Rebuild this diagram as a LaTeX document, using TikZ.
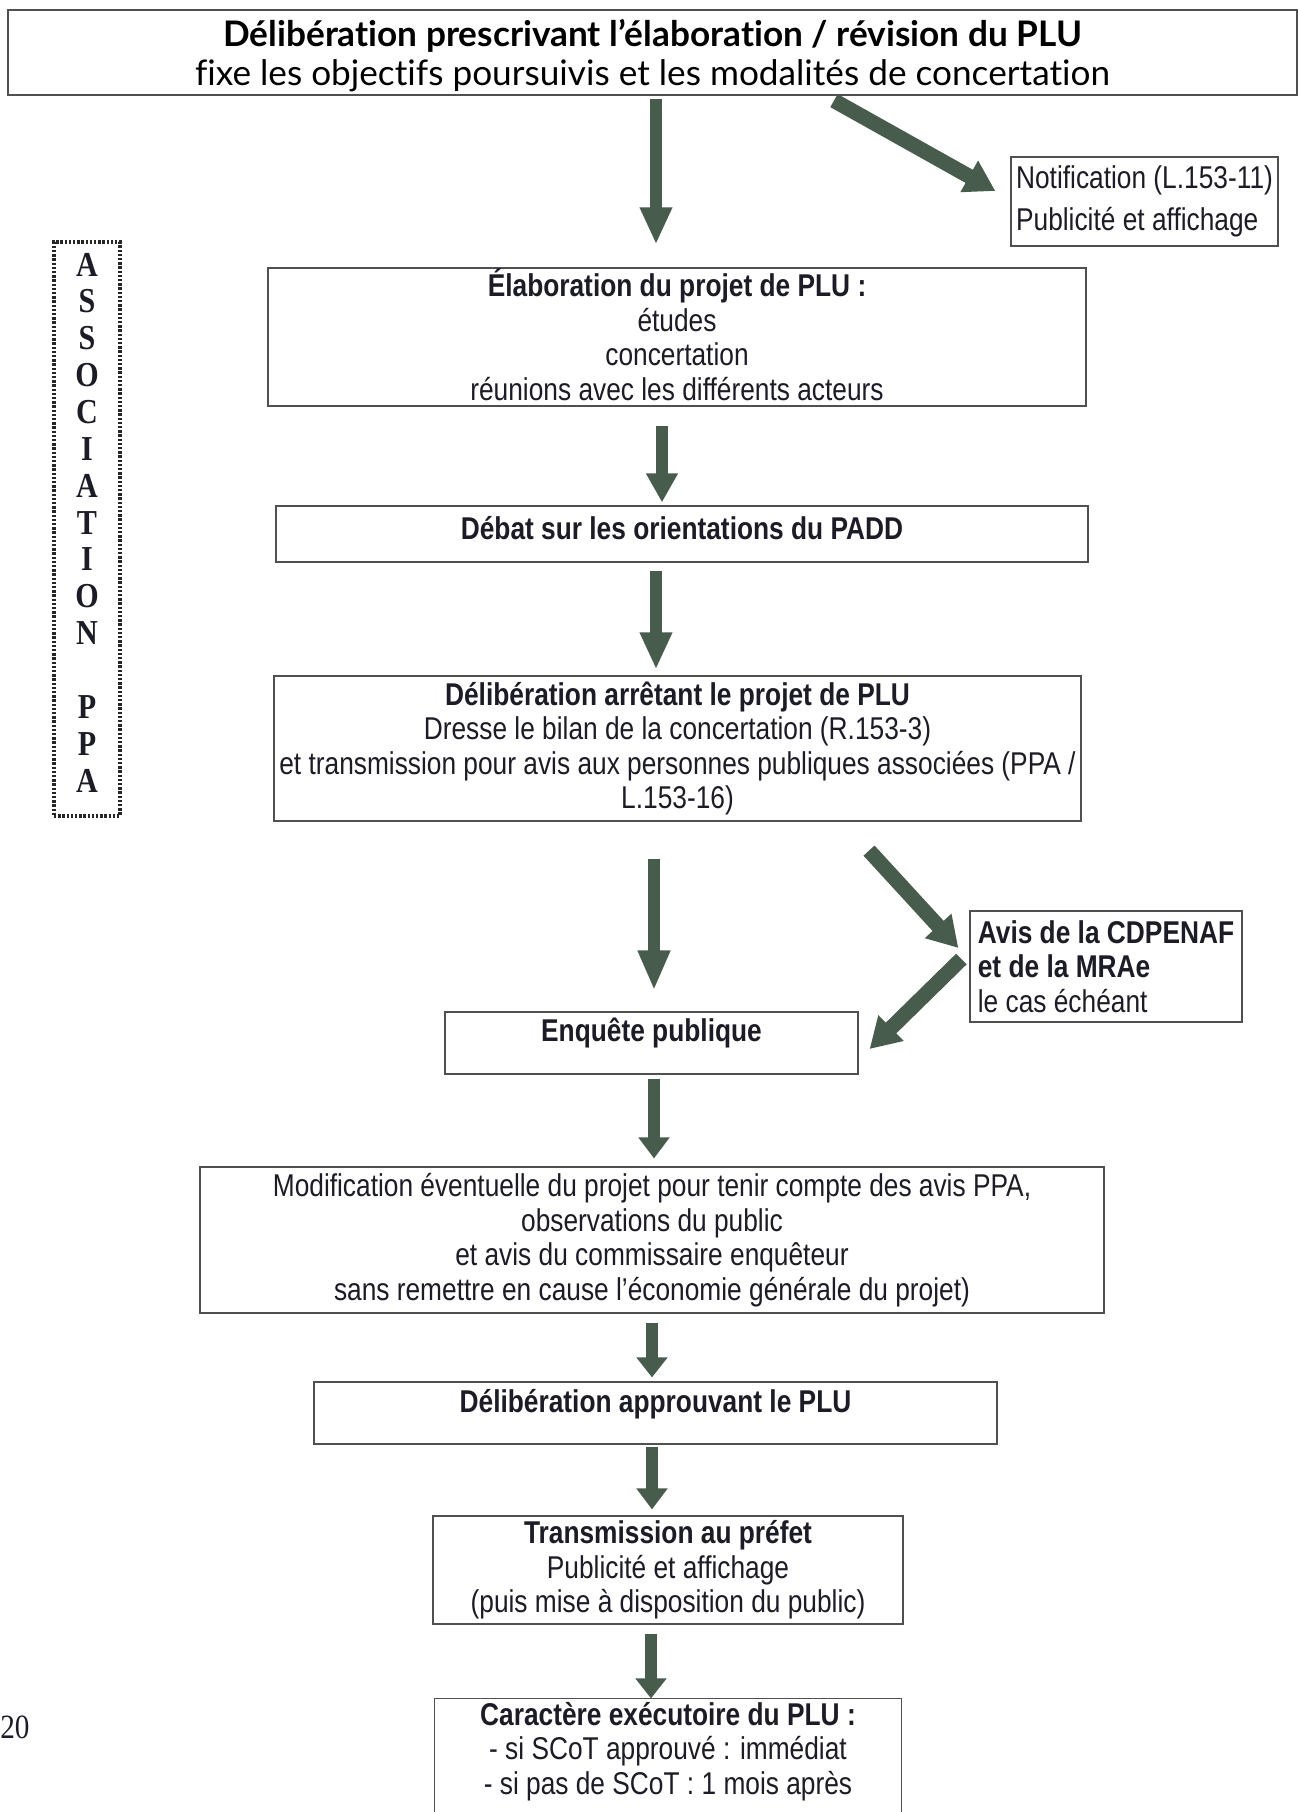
\documentclass[tikz,border=0pt]{standalone}
\usepackage{fontspec}
\usetikzlibrary{arrows.meta,calc}
\newfontfamily\nar{Liberation Sans}[FakeStretch=0.835]
\newfontfamily\titf{Lato}[Ligatures=NoCommon]
\newfontfamily\serf{Liberation Serif}[FakeStretch=0.86]
\definecolor{arrowc}{RGB}{72,92,78}
\definecolor{boxc}{RGB}{80,80,80}
\definecolor{txtc}{RGB}{28,28,38}
\tikzset{
 box/.style={draw=boxc, line width=0.6pt, inner xsep=2pt, inner ysep=0pt, text=txtc,
   font=\nar\fontsize{15.75pt}{17.25pt}\selectfont},
 mbox/.style={box, align=center},
 bigarrow/.style={line width=6.25pt, draw=arrowc, -{Triangle[width=15pt,length=#1]}},
 bigarrow/.default=10pt,
 diagarrow/.style={line width=7.5pt, draw=arrowc, -{Triangle[width=17pt,length=15pt]}},
}
\begin{document}
\begin{tikzpicture}[x=0.5pt,y=-0.5pt]
\useasboundingbox[fill=white] (0,0) rectangle (1298,1812);
% title box
\node[box, minimum width=644.5pt, minimum height=42.5pt] (top) at (652.5,52.5) {};
\node[align=center, inner sep=0pt, text=black,
  font=\titf\fontsize{17.6pt}{19.5pt}\selectfont] (toptext) at (652.5,56)
  {\textbf{Délibération prescrivant l’élaboration / révision du PLU}\\fixe les objectifs poursuivis et les modalités de concertation};
\node[box, align=left, minimum width=133.5pt, minimum height=44.5pt,
  font=\nar\fontsize{15.75pt}{21pt}\selectfont] (notif) at (1144.5,201.5)
  {Notification (L.153-11)\\Publicité et affichage};
% association PPA
\node[draw=black!85, line width=1.6pt, dash pattern=on 1.2pt off 0.9pt, minimum width=33pt,
  minimum height=287pt, inner sep=0pt] (ppa) at (87,529) {};
\node[align=center, inner sep=0pt, text=txtc,
  font=\serf\bfseries\fontsize{17.5pt}{18.43pt}\selectfont] (ppatext) at (87,522.5)
  {A\\S\\S\\O\\C\\I\\A\\T\\I\\O\\N\\[18.43pt]P\\P\\A};
\node[mbox, minimum width=409pt, minimum height=69pt] (elab) at (677,337)
  {\textbf{\smash{É}laboration du projet de PLU :}\\études\\concertation\\réunions avec les différents acteurs};
\node[box, minimum width=406pt, text height=16.5pt, text depth=11.5pt] (debat) at (682,534)
  {\textbf{Débat sur les orientations du PADD}};
\node[mbox, minimum width=403.5pt, minimum height=72.5pt] (arr) at (677.5,748.5)
  {\textbf{Délibération arrêtant le projet de PLU}\\Dresse le bilan de la concertation (R.153-3)\\et transmission pour avis aux personnes publiques associées (PPA /\\L.153-16)};
\node[box, align=left, minimum width=136pt, minimum height=55.5pt] (avis) at (1106,966.5)
  {\textbf{Avis de la CDPENAF}\\\textbf{et de la MRAe}\\le cas échéant};
\node[box, minimum width=206.5pt, text height=14.5pt, text depth=16.5pt] (enq) at (651.5,1043)
  {\textbf{Enquête publique}};
\node[mbox, minimum width=452pt, minimum height=73pt] (modif) at (652,1240)
  {Modification éventuelle du projet pour tenir compte des avis PPA,\\observations du public\\et avis du commissaire enquêteur\\sans remettre en cause l’économie générale du projet)};
\node[box, minimum width=341.5pt, text height=15pt, text depth=16pt] (appr) at (655.5,1413)
  {\textbf{Délibération approuvant le PLU}};
\node[mbox, minimum width=235pt, minimum height=54pt] (trans) at (668,1570)
  {\textbf{Transmission au préfet}\\Publicité et affichage\\(puis mise à disposition du public)};
\node[mbox, draw=none, minimum width=233pt, minimum height=52.5pt] (car) at (668,1751.5)
  {\textbf{Caractère exécutoire du PLU :}\\- si SCoT approuvé : immédiat\\- si pas de SCoT : 1 mois après};
\draw[boxc, line width=0.6pt] ([yshift=-20pt]car.south west) -- (car.north west) -- (car.north east) -- ([yshift=-20pt]car.south east);
\node[font=\serf\fontsize{17pt}{19pt}\selectfont, text=txtc, inner sep=0pt] (pg) at (15,1727) {20};
% x positions of vertical arrows
\coordinate (x656) at (656,0);
\coordinate (x662) at (662,0);
\coordinate (x654) at (654,0);
\coordinate (x652) at (652,0);
\coordinate (x651) at (651,0);
% vertical arrows
\draw[bigarrow=18.5pt, shorten <=1.5pt, shorten >=11.5pt] (top.south -| x656) -- (elab.north -| x656);
\draw[bigarrow=14.5pt, shorten <=9.5pt, shorten >=1.5pt] (elab.south -| x662) -- (debat.north -| x662);
\draw[bigarrow=18.5pt, shorten <=4pt, shorten >=3pt] (debat.south -| x656) -- (arr.north -| x656);
\draw[bigarrow=20pt, shorten <=18.5pt, shorten >=10.5pt] (arr.south -| x654) -- (enq.north -| x654);
\draw[bigarrow=10.5pt, shorten <=2pt, shorten >=4pt] (enq.south -| x654) -- (modif.north -| x654);
\draw[bigarrow=10pt, shorten <=4.5pt, shorten >=2pt] (modif.south -| x652) -- (appr.north -| x652);
\draw[bigarrow=10.5pt, shorten <=1pt, shorten >=3pt] (appr.south -| x652) -- (trans.north -| x652);
\draw[bigarrow=10pt, shorten <=4.5pt, shorten >=0pt] (trans.south -| x651) -- (car.north -| x651);
% diagonal arrows
\draw[diagarrow] ([shift={(181.5,5)}]top.south) -- ([shift={(-15,-10.5)}]notif.west);
\draw[diagarrow] ([shift={(191.5,29)}]arr.south) -- ([shift={(-11,-18.5)}]avis.west);
\draw[diagarrow] ([shift={(-8,-7.5)}]avis.west) -- ([shift={(11,6)}]enq.east);
\end{tikzpicture}
\end{document}
